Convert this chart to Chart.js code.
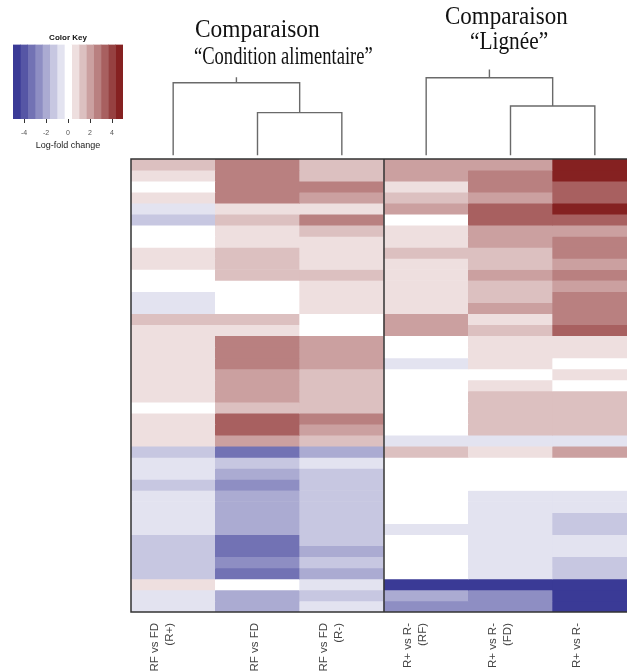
<!DOCTYPE html>
<html>
<head>
<meta charset="utf-8">
<script src="https://cdn.jsdelivr.net/npm/chart.js@4.4.1/dist/chart.umd.min.js"></script>
<style>
html, body { margin: 0; padding: 0; background: #fff; overflow: hidden; }
#wrap { position: relative; width: 627px; height: 671px; overflow: hidden; }
#heat { position: absolute; left: 0; top: 0; }
#key { position: absolute; left: 0; top: 0; }
.ttl {
    position: absolute;
    font-family: "Liberation Serif", "Times New Roman", serif;
    font-size: 26px;
    line-height: 26px;
    white-space: nowrap;
    color: #111;
    transform-origin: 0 0;
}
</style>
</head>
<body>
<div id="wrap">
    <canvas id="heat" width="640" height="671"></canvas>
    <canvas id="key" width="140" height="155"></canvas>
    <span class="ttl" data-w="125" style="left:195px; top:16px;">Comparaison</span>
    <span class="ttl" data-w="179" style="left:194px; top:43px;">“Condition alimentaire”</span>
    <span class="ttl" data-w="123" style="left:445px; top:3px;">Comparaison</span>
    <span class="ttl" data-w="78" style="left:470px; top:28px;">“Lignée”</span>
</div>
<script>
const SANS = '"Liberation Sans", Arial, Helvetica, sans-serif';

// column labels (rotated under the heatmap)
const comparisons = [
    ['RF vs FD', '(R+)'],
    ['RF vs FD'],
    ['RF vs FD', '(R-)'],
    ['R+ vs R-', '(RF)'],
    ['R+ vs R-', '(FD)'],
    ['R+ vs R-', '']
];

// log-fold change per gene (41 rows, top to bottom), one array per comparison
const rfFdRplus  = [1.3, 0.7, 0, 0.7, -0.7, -1.3, 0, 0, 0.7, 0.7,
                    0, 0, -0.7, -0.7, 1.3, 0.7, 0.7, 0.7, 0.7, 0.7,
                    0.7, 0.7, 0, 0.7, 0.7, 0.7, -1.3, -0.7, -0.7, -1.3,
                    -0.7, -0.7, -0.7, -0.7, -1.3, -1.3, -1.3, -1.3, 0.7, -0.7, -0.7];
const rfFd       = [2.7, 2.7, 2.7, 2.7, 0.7, 1.3, 0.7, 0.7, 1.3, 1.3,
                    1.3, 0, 0, 0, 1.3, 0.7, 2.7, 2.7, 2.7, 2.0,
                    2.0, 2.0, 1.3, 3.3, 3.3, 2.0, -3.3, -1.3, -2.0, -2.7,
                    -2.0, -2.0, -2.0, -2.0, -3.3, -3.3, -2.7, -3.3, 0, -2.0, -2.0];
const rfFdRminus = [1.3, 1.3, 2.7, 2.0, 0.7, 2.7, 1.3, 0.7, 0.7, 0.7,
                    1.3, 0.7, 0.7, 0.7, 0, 0, 2.0, 2.0, 2.0, 1.3,
                    1.3, 1.3, 1.3, 2.7, 2.0, 1.3, -2.0, -0.7, -1.3, -1.3,
                    -1.3, -1.3, -1.3, -1.3, -1.3, -2.0, -1.3, -2.0, -0.7, -1.3, -0.7];
const rpRmRF     = [2.0, 2.0, 0.7, 1.3, 2.0, 0, 0.7, 0.7, 1.3, 0.7,
                    0.7, 0.7, 0.7, 0.7, 2.0, 2.0, 0, 0, -0.7, 0,
                    0, 0, 0, 0, 0, -0.7, 1.3, 0, 0, 0,
                    0, 0, 0, -0.7, 0, 0, 0, 0, -4.7, -2.0, -2.7];
const rpRmFD     = [2.0, 2.7, 2.7, 2.0, 3.3, 3.3, 2.0, 2.0, 1.3, 1.3,
                    2.0, 1.3, 1.3, 2.0, 0.7, 1.3, 0.7, 0.7, 0.7, 0,
                    0.7, 1.3, 1.3, 1.3, 1.3, -0.7, 0.7, 0, 0, 0,
                    -0.7, -0.7, -0.7, -0.7, -0.7, -0.7, -0.7, -0.7, -4.7, -2.7, -2.7];
const rpRm       = [4.7, 4.7, 3.3, 3.3, 4.7, 3.3, 2.0, 2.7, 2.7, 2.0,
                    2.7, 2.0, 2.7, 2.7, 2.7, 3.3, 0.7, 0.7, 0, 0.7,
                    0, 1.3, 1.3, 1.3, 1.3, -0.7, 2.0, 0, 0, 0,
                    -0.7, -0.7, -1.3, -1.3, -0.7, -0.7, -1.3, -1.3, -4.7, -4.7, -4.7];

const columns = [rfFdRplus, rfFd, rfFdRminus, rpRmRF, rpRmFD, rpRm];

// dendrogram heights, in row units above the heatmap: [pair merge, root merge, root stem]
const treeFood = [4.2, 6.9, 7.4];
const treeLine = [4.8, 7.35, 8.1];

const keyTicks = [-4, -2, 0, 2, 4];
const keyRange = [-5, 5];
const keySteps = 15;

// 7 steps towards dark red / dark blue, white around zero
function cellColor(v) {
    const step = (keyRange[1] - keyRange[0]) / keySteps;
    let k = Math.round(v / step);
    k = Math.max(-7, Math.min(7, k));
    const end = k > 0 ? [133, 33, 33] : [58, 58, 150];
    const t = Math.abs(k) / 7;
    const c = end.map(e => Math.round(255 + (e - 255) * t));
    return `rgb(${c[0]}, ${c[1]}, ${c[2]})`;
}

const nRows = rfFdRplus.length;
const rowSets = [];
for (let i = 0; i < nRows; i++) {
    rowSets.push({
        data: columns.map(() => [i, i + 1]),
        backgroundColor: columns.map(col => cellColor(col[i])),
        borderWidth: 0,
        grouped: false,
        barPercentage: 1,
        categoryPercentage: 1
    });
}

const heatDecor = {
    id: 'heatDecor',
    afterDraw(chart) {
        const ctx = chart.ctx;
        const a = chart.chartArea;
        const x = chart.scales.x;
        const y = chart.scales.y;
        const px = i => x.getPixelForValue(i);

        // frame and split between the two groups
        ctx.save();
        ctx.strokeStyle = '#333';
        ctx.lineWidth = 1.5;
        ctx.strokeRect(a.left, a.top, a.right - a.left, a.bottom - a.top);
        const split = (px(2) + px(3)) / 2;
        ctx.beginPath();
        ctx.moveTo(split, a.top);
        ctx.lineTo(split, a.bottom);
        ctx.stroke();

        // dendrograms
        ctx.strokeStyle = '#6a6a6a';
        ctx.lineWidth = 1.4;
        const leafTop = y.getPixelForValue(-0.35);
        const tree = (g, h) => {
            const xa = px(g), xb = px(g + 1), xc = px(g + 2);
            const y1 = y.getPixelForValue(-h[0]);
            const y2 = y.getPixelForValue(-h[1]);
            const y3 = y.getPixelForValue(-h[2]);
            const mid = (xb + xc) / 2;
            ctx.beginPath();
            ctx.moveTo(xb, leafTop); ctx.lineTo(xb, y1); ctx.lineTo(xc, y1); ctx.lineTo(xc, leafTop);
            ctx.moveTo(xa, leafTop); ctx.lineTo(xa, y2); ctx.lineTo(mid, y2); ctx.lineTo(mid, y1);
            ctx.moveTo((xa + mid) / 2, y2); ctx.lineTo((xa + mid) / 2, y3);
            ctx.stroke();
        };
        tree(0, treeFood);
        tree(3, treeLine);

        // rotated column labels
        ctx.fillStyle = '#444';
        ctx.font = '11.5px ' + SANS;
        ctx.textAlign = 'right';
        ctx.textBaseline = 'middle';
        comparisons.forEach((lines, i) => {
            const n = lines.length;
            lines.forEach((t, k) => {
                ctx.save();
                ctx.translate(px(i) - 3 - 15 * (n - 1 - k), a.bottom + 11);
                ctx.rotate(-Math.PI / 2);
                ctx.fillText(t, 0, 0);
                ctx.restore();
            });
        });
        ctx.restore();
    }
};

new Chart(document.getElementById('heat'), {
    type: 'bar',
    data: { labels: comparisons.map(c => c.join(' ')), datasets: rowSets },
    options: {
        responsive: false,
        animation: false,
        layout: { padding: { left: 131, top: 159, right: 3, bottom: 59 } },
        plugins: { legend: { display: false }, tooltip: { enabled: false } },
        scales: {
            x: { display: false },
            y: { display: false, reverse: true, min: 0, max: nRows }
        }
    },
    plugins: [heatDecor]
});

// colour key
const keySets = [];
const keyStep = (keyRange[1] - keyRange[0]) / keySteps;
for (let b = 0; b < keySteps; b++) {
    const lo = keyRange[0] + b * keyStep;
    keySets.push({
        data: [[lo, lo + keyStep]],
        backgroundColor: cellColor(lo + keyStep / 2),
        borderWidth: 0,
        grouped: false,
        barPercentage: 1,
        categoryPercentage: 1
    });
}

new Chart(document.getElementById('key'), {
    type: 'bar',
    data: { labels: [''], datasets: keySets },
    options: {
        indexAxis: 'y',
        responsive: false,
        animation: false,
        layout: { padding: { left: 13, right: 17 } },
        plugins: {
            legend: { display: false },
            tooltip: { enabled: false },
            title: {
                display: true,
                text: 'Color Key',
                color: '#111',
                font: { family: SANS, size: 8, weight: 'bold' },
                padding: { top: 33, bottom: 2 }
            }
        },
        scales: {
            x: {
                type: 'linear',
                min: keyRange[0],
                max: keyRange[1],
                afterBuildTicks: s => { s.ticks = keyTicks.map(v => ({ value: v })); },
                afterFit: s => { s.height = 36; },
                grid: { drawOnChartArea: false, tickLength: 4, color: '#333' },
                border: { display: false },
                ticks: { color: '#555', font: { family: SANS, size: 7 }, padding: 6, maxRotation: 0 },
                title: {
                    display: true,
                    text: 'Log-fold change',
                    color: '#222',
                    font: { family: SANS, size: 9 },
                    padding: { top: 1, bottom: 4 }
                }
            },
            y: { display: false }
        }
    }
});

// squeeze the titles to the widths seen in the figure
document.querySelectorAll('.ttl').forEach(el => {
    const k = +el.dataset.w / el.offsetWidth;
    el.style.transform = `scaleX(${k})`;
});
</script>
</body>
</html>
